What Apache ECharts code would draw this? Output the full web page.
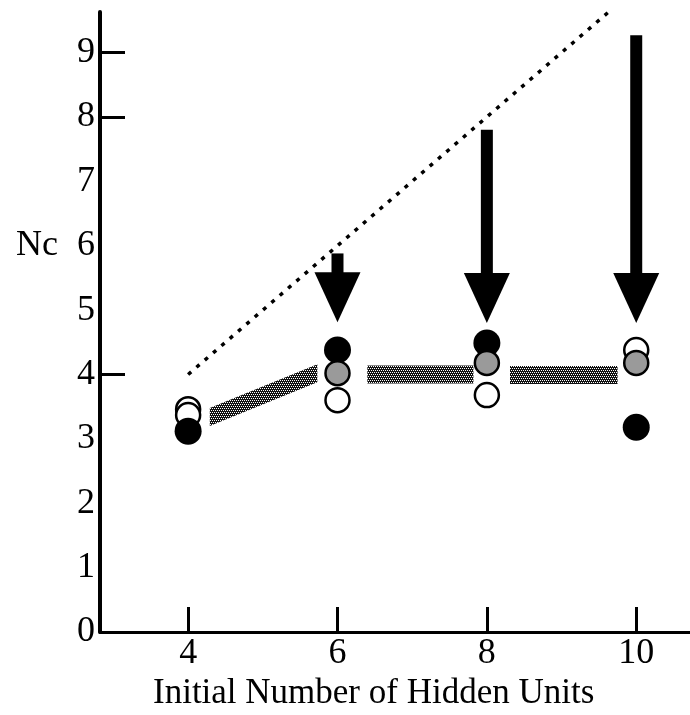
<!DOCTYPE html>
<html>
<head>
<meta charset="utf-8">
<script src="https://cdn.jsdelivr.net/npm/echarts@6/dist/echarts.min.js"></script>
<style>
  html, body { margin: 0; padding: 0; background: #fff; }
  #chart { width: 690px; height: 715px; }
</style>
</head>
<body>
<div id="chart"></div>
<script>
// values
const xTicks = [4, 6, 8, 10];
const yLabels = [0, 1, 2, 3, 4, 5, 6, 7, 8, 9];
const yTickMarks = [4, 8, 9];
const openPoints = [[4, 3.46], [4, 3.37], [6, 3.6], [8, 3.68], [10, 4.38]];
const grayPoints = [[6, 4.02], [8, 4.18], [10, 4.18]];
const blackPoints = [[4, 3.12], [6, 4.38], [8, 4.49], [10, 3.18]];
const diagonal = [[4, 4], [10, 10]];          // Nc = initial units (dotted)
const bandSegments = [                         // [x1, y1, x2, y2]
  [4.29, 3.34, 5.73, 4.02],
  [6.40, 4.00, 7.82, 4.00],
  [8.31, 3.99, 9.75, 3.99]
];
const arrows = [                               // [x, top, tip]
  [6, 5.88, 4.81],
  [8, 7.80, 4.80],
  [10, 9.27, 4.80]
];

const serif = "'Liberation Serif', 'Times New Roman', serif";

// stippled grey, like the halftone in the scan
function stipple() {
  const c = document.createElement('canvas');
  c.width = 4; c.height = 4;
  const g = c.getContext('2d');
  g.fillStyle = '#111';
  g.fillRect(0, 0, 4, 4);
  g.fillStyle = '#fff';
  [[0, 0], [2, 0], [1, 2], [3, 2]].forEach(p => g.fillRect(p[0], p[1], 1, 1));
  return { image: c, repeat: 'repeat' };
}
const grayFill = stipple();

const chart = echarts.init(document.getElementById('chart'));

chart.setOption({
  animation: false,
  grid: { left: 100, right: 0, top: 12, bottom: 83 },
  xAxis: {
    type: 'value',
    min: 2.82,
    max: 10.72,
    axisLine: { lineStyle: { color: '#000', width: 3 } },
    axisTick: { inside: true, length: 25, customValues: xTicks, lineStyle: { color: '#000', width: 3 } },
    axisLabel: { customValues: xTicks, margin: 4, color: '#000', fontSize: 36, fontFamily: serif },
    splitLine: { show: false }
  },
  yAxis: {
    type: 'value',
    min: 0,
    max: 9.63,
    axisLine: { show: true, lineStyle: { color: '#000', width: 4 } },
    axisTick: { show: true, inside: true, length: 25, customValues: yTickMarks, lineStyle: { color: '#000', width: 3 } },
    axisLabel: { customValues: yLabels, margin: 5, color: '#000', fontSize: 36, fontFamily: serif },
    splitLine: { show: false }
  },
  graphic: [
    { type: 'text', left: 16, top: 228, style: { text: 'Nc', font: '36px ' + serif, fill: '#000' } },
    { type: 'text', left: 153, top: 676, style: { text: 'Initial Number of Hidden Units', font: '35px ' + serif, fill: '#000' } }
  ],
  series: [
    {
      type: 'line',
      data: diagonal,
      symbol: 'none',
      lineStyle: { color: '#000', width: 3.5, type: [4, 7] },
      z: 2
    },
    {
      type: 'custom',
      data: bandSegments,
      encode: { x: [0, 2], y: [1, 3] },
      renderItem: function (params, api) {
        const a = api.coord([api.value(0), api.value(1)]);
        const b = api.coord([api.value(2), api.value(3)]);
        const h = 9;
        return {
          type: 'polygon',
          shape: { points: [[a[0], a[1] - h], [b[0], b[1] - h], [b[0], b[1] + h], [a[0], a[1] + h]] },
          style: { fill: grayFill }
        };
      },
      z: 3
    },
    {
      type: 'custom',
      data: arrows,
      encode: { x: 0, y: [1, 2] },
      clip: false,
      renderItem: function (params, api) {
        const top = api.coord([api.value(0), api.value(1)]);
        const tip = api.coord([api.value(0), api.value(2)]);
        const headLen = 50, headHalf = 23, shaftHalf = 6;
        const x = top[0];
        return {
          type: 'group',
          children: [
            {
              type: 'rect',
              shape: { x: x - shaftHalf, y: top[1], width: shaftHalf * 2, height: tip[1] - headLen - top[1] + 2 },
              style: { fill: '#000' }
            },
            {
              type: 'polygon',
              shape: { points: [[x - headHalf, tip[1] - headLen], [x + headHalf, tip[1] - headLen], [x, tip[1]]] },
              style: { fill: '#000' }
            }
          ]
        };
      },
      z: 4
    },
    {
      type: 'scatter',
      data: openPoints,
      symbol: 'circle',
      symbolSize: 24,
      itemStyle: { color: '#fff', borderColor: '#000', borderWidth: 2.5, opacity: 1 },
      z: 5
    },
    {
      type: 'scatter',
      data: blackPoints,
      symbol: 'circle',
      symbolSize: 27,
      itemStyle: { color: '#000', opacity: 1 },
      z: 6
    },
    {
      type: 'scatter',
      data: grayPoints,
      symbol: 'circle',
      symbolSize: 24,
      itemStyle: { color: '#9a9a9a', borderColor: '#000', borderWidth: 2.5, opacity: 1 },
      z: 7
    }
  ]
});
</script>
</body>
</html>
